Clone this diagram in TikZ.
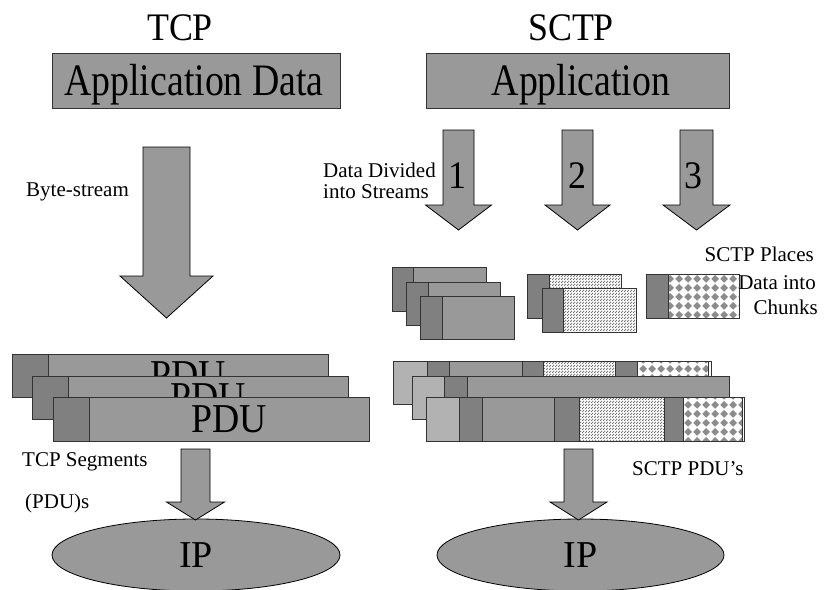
\documentclass[tikz,border=0pt]{standalone}
\usepackage{fontspec}
\setmainfont{Liberation Serif}
\newfontfamily\condfont[FakeStretch=0.84]{Liberation Serif}
\newfontfamily\semicondfont[FakeStretch=0.92]{Liberation Serif}
\usetikzlibrary{shapes.geometric,patterns}
\definecolor{gMed}{gray}{0.6}
\definecolor{gDark}{gray}{0.5}
\definecolor{gLight}{gray}{0.7}
\definecolor{gLine}{gray}{0.2}
\definecolor{gPat}{gray}{0.55}
\definecolor{gDot}{gray}{0.45}
\pgfdeclarepatternformonly{finedots}{\pgfqpoint{0pt}{0pt}}{\pgfqpoint{3pt}{3pt}}{\pgfqpoint{3pt}{3pt}}{%
  \pgfpathcircle{\pgfqpoint{0.75pt}{0.75pt}}{0.95pt}%
  \pgfpathcircle{\pgfqpoint{2.25pt}{2.25pt}}{0.95pt}%
  \pgfusepath{fill}}
\pgfdeclarepatternformonly{diamondgrid}{\pgfqpoint{0pt}{0pt}}{\pgfqpoint{9pt}{9pt}}{\pgfqpoint{9pt}{9pt}}{%
  \pgfpathmoveto{\pgfqpoint{4.5pt}{0.3pt}}%
  \pgfpathlineto{\pgfqpoint{8.7pt}{4.5pt}}%
  \pgfpathlineto{\pgfqpoint{4.5pt}{8.7pt}}%
  \pgfpathlineto{\pgfqpoint{0.3pt}{4.5pt}}%
  \pgfpathclose
  \pgfusepath{fill}}
\tikzset{
  cell/.style={draw=gLine, line width=0.9pt},
  med/.style={cell, fill=gMed},
  dark/.style={cell, fill=gDark},
  light/.style={cell, fill=gLight},
  whitecell/.style={cell, fill=white},
  blk/.style={draw=black, line width=0.8pt, fill=gMed, line join=miter},
  big/.style={font=\semicondfont\fontsize{39}{42}\selectfont, inner sep=0pt},
  apptext/.style={font=\condfont\fontsize{45}{48}\selectfont, inner sep=0pt},
  pdutext/.style={font=\semicondfont\fontsize{41}{44}\selectfont, inner sep=0pt},
  lbl/.style={font=\fontsize{21}{24}\selectfont, inner sep=0pt},
  appbox/.style={draw=gLine, line width=0.9pt, fill=gMed, inner sep=0pt},
  ipell/.style={ellipse, draw=black, line width=0.8pt, fill=gMed, inner sep=0pt,
    minimum width=288pt, minimum height=72pt, font=\fontsize{38}{40}\selectfont},
}
\newcommand\cellbox[5]{\draw[#1] (#2,#3) rectangle (#4,#5);}
\newcommand\patbox[6]{%
  \fill[white] (#2,#3) rectangle (#4,#5);
  \fill[pattern=#1, pattern color=#6] (#2,#3) rectangle (#4,#5);
  \draw[cell] (#2,#3) rectangle (#4,#5);}
\newcommand\blkarrow[6]{%
  \draw[blk] (#1-#2,#4) -- (#1+#2,#4) -- (#1+#2,#5) -- (#1+#3,#5) -- (#1,#6)
    -- (#1-#3,#5) -- (#1-#2,#5) -- cycle;}
\begin{document}
\begin{tikzpicture}[x=1pt,y=-1pt]
\useasboundingbox (0,0) rectangle (824,589);

% titles
\node[big, anchor=base] (tcp) at (180,40) {TCP};
\node[big, anchor=base] (sctp) at (571,40) {SCTP};

% application boxes
\node[appbox, minimum width=288pt, minimum height=55pt] (appd) at (196,80.5) {};
\node[apptext, anchor=base] (appdt) at (194,95) {Application Data};
\node[appbox, minimum width=303pt, minimum height=55pt] (app) at (577.5,80.5) {};
\node[apptext, anchor=base] (appt) at (581,95) {Application};

% TCP byte-stream arrow
\blkarrow{166.5}{23.5}{46.5}{147}{276}{318}
\node[lbl, anchor=base west] (bytes) at (26,196) {Byte-stream};

% SCTP stream arrows
\blkarrow{458.5}{15.5}{33}{130}{205}{230}
\blkarrow{577.5}{15.5}{32.5}{130}{205}{230}
\blkarrow{696.5}{16.5}{33.5}{130}{205}{230}
\node[big, anchor=base] (n1) at (457,188) {1};
\node[big, anchor=base] (n2) at (577,188) {2};
\node[big, anchor=base] (n3) at (693,188) {3};
\node[lbl, anchor=base west] (dd1) at (323,177) {Data Divided};
\node[lbl, anchor=base west] (dd2) at (323,198) {into Streams};

% stream 1 chunks
\cellbox{med}{392}{267}{486}{311}\cellbox{dark}{392}{267}{413}{311}
\cellbox{med}{406}{282}{500}{325}\cellbox{dark}{406}{282}{428}{325}
\cellbox{med}{420}{296}{514}{339}\cellbox{dark}{420}{296}{442}{339}
% stream 2 chunks
\patbox{finedots}{527}{274}{621}{318}{gDot}\cellbox{dark}{527}{274}{549}{318}
\patbox{finedots}{542}{288}{636}{332}{gDot}\cellbox{dark}{542}{288}{563}{332}
% stream 3 chunk
\patbox{diamondgrid}{646}{274}{739}{318}{gPat}\cellbox{dark}{646}{274}{668}{318}
\node[lbl, anchor=base east] (pl1) at (814,261) {SCTP Places};
\node[lbl, anchor=base east] (pl2) at (816,289) {Data into};
\node[lbl, anchor=base east] (pl3) at (818,314) {Chunks};

% TCP PDUs
\cellbox{med}{12}{354}{328}{397}\cellbox{dark}{12}{354}{48}{397}
\node[pdutext, anchor=base] (pdua) at (188,388) {PDU};
\cellbox{med}{32}{376}{348}{419}\cellbox{dark}{32}{376}{68}{419}
\node[pdutext, anchor=base] (pdub) at (208,410) {PDU};
\cellbox{med}{53}{397}{369}{441}\cellbox{dark}{53}{397}{89}{441}
\node[pdutext, anchor=base] (pduc) at (229,432) {PDU};

% SCTP PDUs
\cellbox{light}{393}{361}{427}{404}
\cellbox{dark}{427}{361}{449}{404}
\cellbox{med}{449}{361}{522}{404}
\cellbox{dark}{522}{361}{543}{404}
\patbox{finedots}{543}{361}{615}{404}{gDot}
\cellbox{dark}{615}{361}{637}{404}
\patbox{diamondgrid}{637}{361}{708}{404}{gPat}
\cellbox{whitecell}{708}{361}{711}{404}

\cellbox{light}{412}{376}{444}{419}
\cellbox{dark}{444}{376}{467}{419}
\cellbox{med}{467}{376}{729}{419}

\cellbox{light}{426}{397}{459}{441}
\cellbox{dark}{459}{397}{482}{441}
\cellbox{med}{482}{397}{554}{441}
\cellbox{dark}{554}{397}{579}{441}
\patbox{finedots}{579}{397}{664}{441}{gDot}
\cellbox{dark}{664}{397}{683}{441}
\patbox{diamondgrid}{683}{397}{742}{441}{gPat}
\cellbox{whitecell}{742}{397}{744}{441}

% labels near bottom
\node[lbl, anchor=base west] (seg1) at (22,466) {TCP Segments};
\node[lbl, anchor=base west] (seg2) at (25,508) {(PDU)s};
\node[lbl, anchor=base west] (spdu) at (632,475) {SCTP PDU’s};

% IP ellipses
\node[ipell] (ip1) at (196,555) {IP};
\node[ipell, minimum width=287pt] (ip2) at (580.5,555) {IP};

% arrows into IP
\blkarrow{195.5}{14.5}{29}{449}{502}{520}
\blkarrow{578.5}{14.5}{28.5}{449}{502}{520}
\end{tikzpicture}
\end{document}
